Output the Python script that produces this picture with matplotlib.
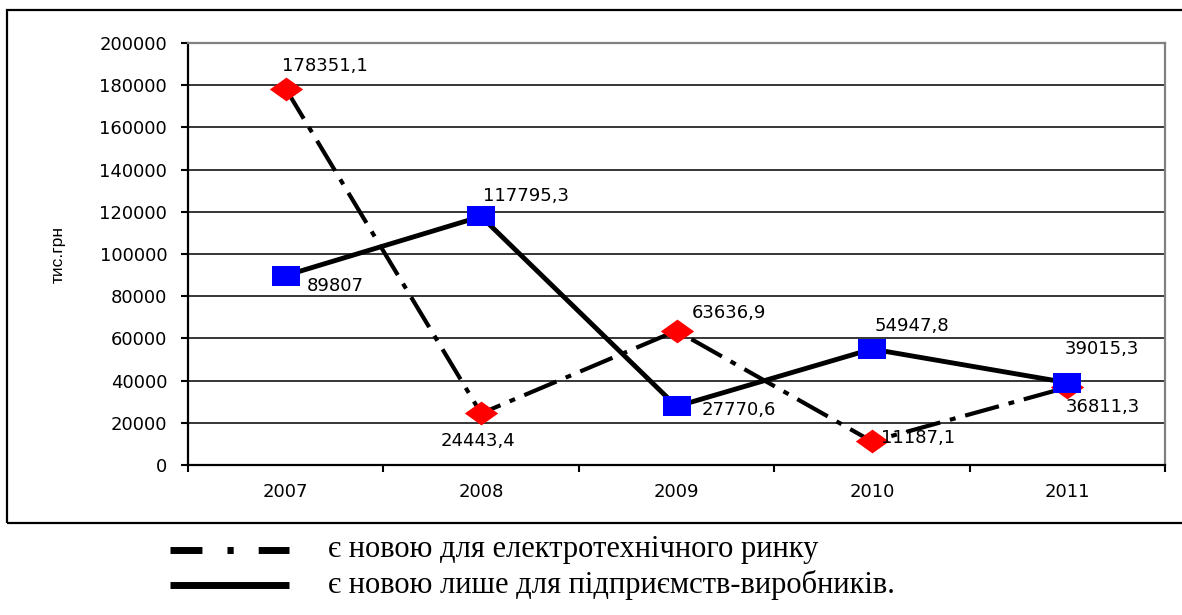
import matplotlib
matplotlib.use("Agg")
import matplotlib.pyplot as plt
from matplotlib.path import Path
from matplotlib.lines import Line2D
from matplotlib.patches import Rectangle

# роки та показники, тис. грн
years = ["2007", "2008", "2009", "2010", "2011"]
market_new = [178351.1, 24443.4, 63636.9, 11187.1, 36811.3]
producer_new = [89807, 117795.3, 27770.6, 54947.8, 39015.3]
legend_labels = ["є новою для електротехнічного ринку",
                 "є новою лише для підприємств-виробників."]
y_ticks = list(range(0, 200001, 20000))

# зсуви підписів значень (пікселі)
market_offsets = [(-4, 23, "left"), (-3, -28, "center"), (15, 18, "left"),
                  (9, 3, "left"), (-2, -20, "left")]
producer_offsets = [(21, -10, "left"), (2, 20, "left"), (25, -4, "left"),
                    (3, 23, "left"), (-3, 34, "left")]


def fmt(v):
    if float(v).is_integer():
        return str(int(v))
    return f"{v:.1f}".replace(".", ",")


# маркери, розтягнуті по горизонталі
rect = Path([(-0.7, -0.5), (0.7, -0.5), (0.7, 0.5), (-0.7, 0.5), (-0.7, -0.5)],
            closed=True)
diamond = Path([(-0.7, 0), (0, 0.5), (0.7, 0), (0, -0.5), (-0.7, 0)], closed=True)

fig = plt.figure(figsize=(11.82, 6.15), dpi=100)
W, H = 1182, 615

# рамка діаграми
fig.add_artist(Rectangle((7 / W, 1 - 523 / H), 1.2, (523 - 10) / H,
                         transform=fig.transFigure, fill=False,
                         edgecolor="black", linewidth=1.6))

ax = fig.add_axes([188 / W, 1 - 465 / H, (1165 - 188) / W, (465 - 43) / H])
x = list(range(len(years)))

ax.plot(x, market_new, color="black", linewidth=3,
        linestyle=(0, (8.4, 2.4, 1.4, 2.4)), marker=diamond, markersize=24,
        markerfacecolor="#ff0000", markeredgewidth=0, zorder=3)
ax.plot(x, producer_new, color="black", linewidth=3.5, linestyle="-",
        marker=rect, markersize=20, markerfacecolor="#0000ff",
        markeredgewidth=0, zorder=4)

for xi, v, (dx, dy, ha) in zip(x, market_new, market_offsets):
    ax.annotate(fmt(v), (xi, v), xytext=(dx, dy), textcoords="offset pixels",
                ha=ha, va="center", fontsize=13, zorder=6)
for xi, v, (dx, dy, ha) in zip(x, producer_new, producer_offsets):
    ax.annotate(fmt(v), (xi, v), xytext=(dx, dy), textcoords="offset pixels",
                ha=ha, va="center", fontsize=13, zorder=6)

ax.set_xlim(-0.5, len(years) - 0.5)
ax.set_ylim(0, 200000)
ax.set_yticks(y_ticks)
ax.set_yticklabels([str(t) for t in y_ticks])
ax.set_xticks(x)
ax.set_xticklabels(years)
ax.set_xticks([i + 0.5 for i in range(-1, len(years))], minor=True)
ax.tick_params(axis="x", which="major", length=0, pad=13, labelsize=13)
ax.tick_params(axis="x", which="minor", length=5, width=1.5, direction="out")
ax.tick_params(axis="y", length=5, width=1.5, pad=10, labelsize=13)

ax.set_axisbelow(True)
ax.yaxis.grid(True, color="black", linewidth=1.1)
for side in ("left", "bottom"):
    ax.spines[side].set_linewidth(1.6)
    ax.spines[side].set_color("black")
for side in ("top", "right"):
    ax.spines[side].set_linewidth(1.6)
    ax.spines[side].set_color("#808080")

fig.text(58 / W, 1 - 255 / H, "тис.грн", rotation=90, ha="center", va="center",
         fontsize=12.5, family="Liberation Sans")

# легенда під діаграмою
legend_styles = [dict(linewidth=5, linestyle=(0, (4.6, 3.6, 0.9, 3.6))),
                 dict(linewidth=5, linestyle="-")]
for i, (label, style) in enumerate(zip(legend_labels, legend_styles)):
    yy = 1 - (550 + 35 * i) / H
    fig.add_artist(Line2D([170 / W, 289 / W], [yy, yy], color="black",
                          transform=fig.transFigure, solid_capstyle="butt",
                          **style))
    fig.text(328 / W, yy, label, ha="left", va="center", fontsize=22,
             family="Liberation Serif")

fig.savefig("out.png", dpi=100)
